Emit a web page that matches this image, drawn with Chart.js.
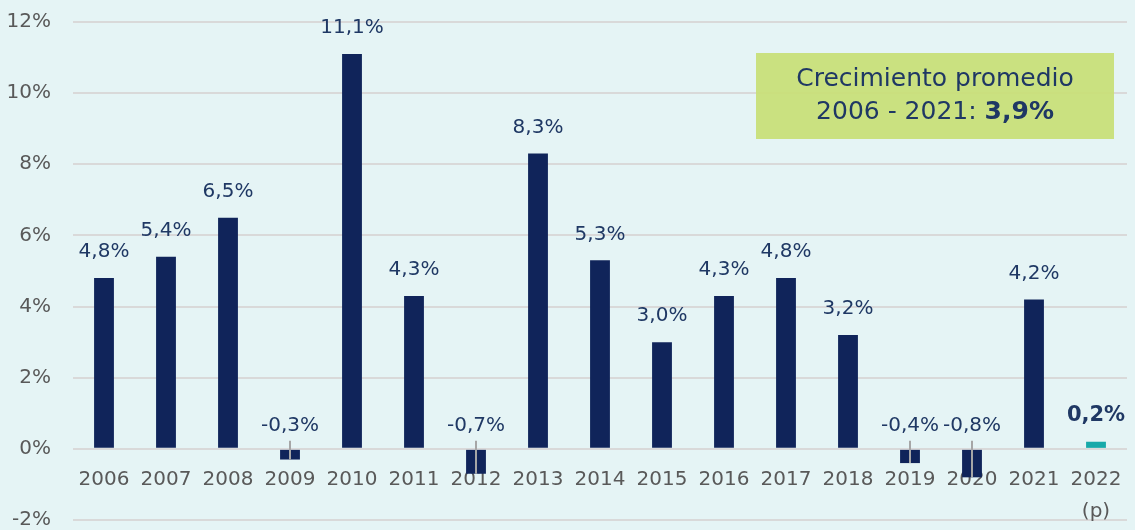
<!DOCTYPE html>
<html>
<head>
<meta charset="utf-8">
<script src="https://cdn.jsdelivr.net/npm/chart.js@4/dist/chart.umd.min.js"></script>
<style>
  html, body { margin: 0; padding: 0; background: #e5f4f5; }
  #wrap { width: 1135px; height: 530px; }
</style>
</head>
<body>
<div id="wrap"><canvas id="growth"></canvas></div>
<script>
const years = ['2006','2007','2008','2009','2010','2011','2012','2013','2014','2015','2016','2017','2018','2019','2020','2021',['2022','(p)']];
const growth = [4.8, 5.4, 6.5, -0.3, 11.1, 4.3, -0.7, 8.3, 5.3, 3.0, 4.3, 4.8, 3.2, -0.4, -0.8, 4.2, 0.2];
const y_ticks = [-2, 0, 2, 4, 6, 8, 10, 12];
const avg_text = ['Crecimiento promedio', '2006 - 2021: ', '3,9%'];

const navy = '#10245a';
const teal = '#17a9a9';
const labelColor = '#1f3864';
const font = '"DejaVu Sans"';

const barColors = growth.map((v, i) => i == growth.length - 1 ? teal : navy);

// value labels + leader lines for negative bars
const valueLabels = {
  id: 'valueLabels',
  afterDatasetsDraw(chart) {
    const ctx = chart.ctx;
    const meta = chart.getDatasetMeta(0);
    const zeroY = chart.scales.y.getPixelForValue(0);
    ctx.save();
    ctx.textAlign = 'center';
    ctx.textBaseline = 'middle';
    meta.data.forEach((bar, i) => {
      const v = growth[i];
      const txt = v.toFixed(1).replace('.', ',') + '%';
      const last = i == growth.length - 1;
      let y;
      if (v < 0) {
        y = zeroY - 23;
        ctx.strokeStyle = '#a6a6a6';
        ctx.lineWidth = 2;
        ctx.beginPath();
        ctx.moveTo(bar.x, zeroY - 8);
        ctx.lineTo(bar.x, bar.y);
        ctx.stroke();
      } else {
        y = bar.y - 26;
      }
      ctx.fillStyle = labelColor;
      ctx.font = (last ? 'bold 21px ' : '20px ') + font;
      ctx.fillText(txt, bar.x, y);
    });
    ctx.restore();
  }
};

// average growth box
const avgBox = {
  id: 'avgBox',
  afterDraw(chart) {
    const ctx = chart.ctx;
    ctx.save();
    ctx.fillStyle = 'rgba(200, 223, 118, 0.93)';
    ctx.fillRect(756, 53, 358, 86);
    ctx.fillStyle = labelColor;
    ctx.textBaseline = 'middle';
    ctx.textAlign = 'center';
    ctx.font = '25px ' + font;
    ctx.fillText(avg_text[0], 935, 79);
    const w1 = ctx.measureText(avg_text[1]).width;
    ctx.font = 'bold 25px ' + font;
    const w2 = ctx.measureText(avg_text[2]).width;
    const x0 = 935 - (w1 + w2) / 2;
    ctx.textAlign = 'left';
    ctx.font = '25px ' + font;
    ctx.fillText(avg_text[1], x0, 112);
    ctx.font = 'bold 25px ' + font;
    ctx.fillText(avg_text[2], x0 + w1, 112);
    ctx.restore();
  }
};

const config_bar = {
  type: 'bar',
  data: {
    labels: years,
    datasets: [{
      data: growth,
      backgroundColor: barColors,
      barPercentage: 0.32,
      categoryPercentage: 1.0
    }]
  },
  options: {
    responsive: true,
    maintainAspectRatio: false,
    animation: false,
    layout: { padding: { top: 0, right: 8, bottom: 0, left: 0 } },
    plugins: {
      legend: { display: false },
      tooltip: { enabled: false }
    },
    scales: {
      x: {
        position: { y: 0 },
        afterFit: (axis) => { axis.height = 0; },
        grid: { display: false },
        border: { display: false },
        ticks: {
          color: '#595959',
          font: { family: font, size: 20, lineHeight: 1.6 },
          maxRotation: 0,
          autoSkip: false,
          padding: 7
        }
      },
      y: {
        min: -2,
        max: 12,
        afterBuildTicks: (axis) => { axis.ticks = y_ticks.map(v => ({ value: v })); },
        afterFit: (axis) => {
          axis.width = 73;
          axis.paddingTop = 22;
          axis.paddingBottom = 10;
        },
        border: { display: false },
        grid: { color: '#d9d9d9', lineWidth: 2, drawTicks: false },
        ticks: {
          color: '#595959',
          font: { family: font, size: 20 },
          padding: 22,
          callback: (v) => v + '%'
        }
      }
    }
  },
  plugins: [valueLabels, avgBox]
};

const myBar = new Chart(document.getElementById('growth'), config_bar);
</script>
</body>
</html>
